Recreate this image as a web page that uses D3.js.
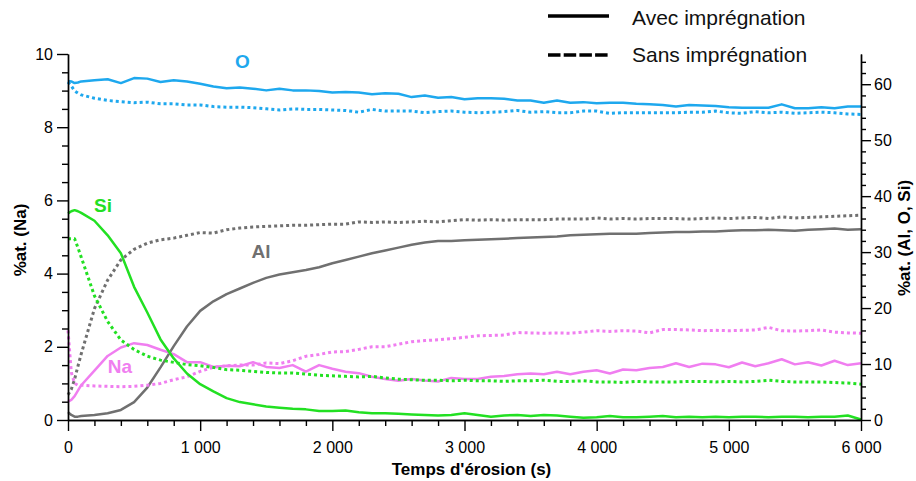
<!DOCTYPE html>
<html>
<head>
<meta charset="utf-8">
<script src="https://cdn.jsdelivr.net/npm/d3@7"></script>
<style>
  html, body { margin: 0; padding: 0; background: #fff; }
  svg { display: block; font-family: "Liberation Sans", Arial, sans-serif; }
</style>
</head>
<body>
<svg id="chart" width="916" height="481"></svg>
<script>
// ---- data ----
const times = [0,25,50,75,100,200,300,400,500,600,700,800,900,1000,
  1100,1200,1300,1400,1500,1600,1700,1800,1900,2000,
  2100,2200,2300,2400,2500,2600,2700,2800,2900,3000,
  3100,3200,3300,3400,3500,3600,3700,3800,3900,4000,
  4100,4200,4300,4400,4500,4600,4700,4800,4900,5000,
  5100,5200,5300,5400,5500,5600,5700,5800,5900,6000];

// right axis (Al, O, Si) — solid = avec imprégnation, dotted = sans imprégnation
const oAvec = [60.6,60.5,60.2,60.3,60.5,60.7,60.9,60.2,61.1,61.0,60.4,60.7,60.5,60.1,
  59.6,59.3,59.4,59.2,58.9,59.2,58.9,58.9,58.8,58.5,
  58.6,58.5,58.2,58.4,58.3,57.7,58.0,57.6,57.7,57.3,
  57.5,57.5,57.4,57.1,57.1,56.7,57.1,56.7,56.8,56.6,
  56.7,56.7,56.5,56.4,56.3,56.0,56.3,56.2,56.1,55.9,
  55.8,55.8,55.8,56.4,55.7,55.7,55.9,55.7,56.0,56.0];
const oSans = [60.4,59.7,58.8,58.4,58.1,57.5,57.1,56.9,56.7,56.8,56.5,56.5,56.3,56.3,
  56.0,55.9,55.9,55.8,55.6,55.4,55.6,55.5,55.5,55.4,
  55.3,55.0,55.5,55.2,55.2,55.2,54.9,55.1,55.2,55.0,
  54.9,55.0,55.1,55.3,55.0,55.1,54.9,54.9,55.2,55.2,
  54.8,54.9,54.9,54.9,54.9,54.9,55.0,55.0,55.2,54.9,
  54.8,55.1,54.9,55.0,54.8,54.9,55.0,54.9,54.7,54.6];
const siAvec = [36.9,37.3,37.5,37.3,37.0,35.6,33.0,29.8,23.8,19.2,14.4,11.0,8.3,6.4,
  5.1,3.9,3.2,2.8,2.4,2.2,2.0,1.9,1.6,1.6,
  1.7,1.4,1.2,1.2,1.1,1.0,0.9,0.8,0.9,1.2,
  0.9,0.6,0.8,0.9,0.7,0.9,0.8,0.6,0.4,0.5,
  0.7,0.5,0.5,0.6,0.7,0.5,0.6,0.5,0.6,0.5,
  0.6,0.6,0.5,0.6,0.6,0.5,0.6,0.6,0.8,0.1];
const siSans = [32.4,32.4,32.4,30.8,29.1,22.2,17.6,14.3,12.6,11.4,10.7,10.3,9.9,9.7,
  9.4,9.0,8.9,8.7,8.5,8.4,8.4,8.2,8.0,7.9,
  7.8,7.7,7.8,7.5,7.3,7.2,7.1,7.1,7.0,7.1,
  7.0,7.0,6.9,7.0,7.0,7.1,6.9,6.9,7.0,6.8,
  6.8,6.7,6.9,6.8,6.8,6.8,6.9,6.9,6.8,6.9,
  6.8,6.9,7.1,6.9,6.8,6.8,6.8,6.7,6.6,6.4];
const alAvec = [1.4,0.9,0.6,0.6,0.7,0.9,1.2,1.8,3.2,5.8,9.4,13.2,16.7,19.5,
  21.2,22.5,23.5,24.5,25.4,26.0,26.4,26.8,27.3,28.0,
  28.6,29.2,29.8,30.3,30.8,31.3,31.7,32.0,32.0,32.1,
  32.2,32.3,32.4,32.5,32.6,32.7,32.8,33.0,33.1,33.2,
  33.3,33.3,33.3,33.4,33.5,33.6,33.6,33.7,33.7,33.8,
  33.9,33.9,34.0,33.9,33.8,34.0,34.1,34.2,34.0,34.1];
const alSans = [4.5,5.5,7.3,9.6,11.8,19.9,25.0,28.6,30.5,31.6,32.2,32.5,33.0,33.5,
  33.4,34.0,34.3,34.5,34.6,34.7,34.8,34.8,34.9,35.0,
  35.0,35.4,35.3,35.4,35.3,35.4,35.5,35.4,35.6,35.8,
  35.7,35.8,35.7,35.8,35.8,35.8,35.9,35.9,35.9,36.1,
  35.9,36.0,35.9,36.0,36.0,36.0,35.9,36.0,36.1,36.0,
  36.1,36.2,36.0,36.3,36.1,36.2,36.3,36.4,36.5,36.6];
// left axis (Na)
const naAvec = [0.5,0.55,0.65,0.8,0.95,1.35,1.75,1.98,2.1,2.05,1.92,1.8,1.58,1.58,
  1.45,1.48,1.47,1.58,1.45,1.42,1.5,1.32,1.5,1.4,
  1.32,1.28,1.18,1.12,1.07,1.12,1.08,1.05,1.15,1.12,
  1.12,1.18,1.2,1.25,1.27,1.25,1.32,1.25,1.32,1.36,
  1.27,1.38,1.36,1.42,1.45,1.55,1.45,1.54,1.52,1.44,
  1.57,1.47,1.55,1.66,1.52,1.58,1.49,1.62,1.5,1.55];
const naSans = [2.45,1.3,1.0,0.95,0.95,0.93,0.92,0.91,0.92,0.95,1.0,1.1,1.18,1.33,
  1.44,1.48,1.5,1.5,1.56,1.54,1.62,1.74,1.79,1.86,
  1.87,1.93,2.0,2.0,2.07,2.14,2.17,2.19,2.22,2.26,
  2.3,2.31,2.32,2.39,2.38,2.37,2.38,2.37,2.4,2.44,
  2.42,2.44,2.43,2.38,2.47,2.47,2.46,2.44,2.45,2.44,
  2.45,2.46,2.53,2.44,2.43,2.44,2.46,2.4,2.38,2.37];

const xTicks = [0,1000,2000,3000,4000,5000,6000];
const xMinorTicks = [200,400,600,800,1200,1400,1600,1800,2200,2400,2600,2800,3200,3400,3600,3800,4200,4400,4600,4800,5200,5400,5600,5800];
const leftTicks = [0,2,4,6,8,10];
const leftMinorTicks = [0.5,1,1.5,2.5,3,3.5,4.5,5,5.5,6.5,7,7.5,8.5,9,9.5];
const rightTicks = [0,10,20,30,40,50,60];
const rightMinorTicks = [2,4,6,8,12,14,16,18,22,24,26,28,32,34,36,38,42,44,46,48,52,54,56,58,62,64];

const seriesLabels = ["O","Si","Al","Na"];
const legendLabels = ["Avec imprégnation","Sans imprégnation"];
const xTitle = "Temps d'érosion (s)";
const leftTitle = "%at. (Na)";
const rightTitle = "%at. (Al, O, Si)";

// ---- layout / styles ----
const colors = { O: "#1ea8ee", Si: "#22e022", Al: "#707070", Na: "#f07ef0" };
const L = 68, R = 861, T = 54, B = 420;

const svg = d3.select("#chart");
const x = d3.scaleLinear().domain([0, 6000]).range([L, R]);
const yL = d3.scaleLinear().domain([0, 10]).range([B, T]);
const yR = d3.scaleLinear().domain([0, 65.4]).range([B, T]);

const loc = d3.formatLocale({decimal: ",", thousands: "\u00a0", grouping: [3], currency: ["", "€"]});
const fmt = loc.format(",d");

function styleAxis(g) {
  g.selectAll("path.domain").attr("stroke", "#000").attr("stroke-width", 1.4);
  g.selectAll(".tick line").attr("stroke", "#000").attr("stroke-width", 1.4);
  g.selectAll("text").attr("fill", "#000").style("font-size", "16px")
    .style("font-family", "'Liberation Sans', Arial, sans-serif");
}

// lines
function drawLine(vals, scale, color, dotted) {
  const line = d3.line().x((d, i) => x(times[i])).y(d => scale(d));
  const p = svg.append("path").datum(vals).attr("d", line)
    .attr("fill", "none").attr("stroke", color)
    .attr("stroke-linejoin", "round");
  if (dotted) p.attr("stroke-width", 3).attr("stroke-dasharray", "3,3");
  else p.attr("stroke-width", 2.5);
}
drawLine(alSans, yR, colors.Al, true);
drawLine(alAvec, yR, colors.Al, false);
drawLine(naSans, yL, colors.Na, true);
drawLine(naAvec, yL, colors.Na, false);
drawLine(siSans, yR, colors.Si, true);
drawLine(siAvec, yR, colors.Si, false);
drawLine(oSans, yR, colors.O, true);
drawLine(oAvec, yR, colors.O, false);

// axes
svg.append("g").attr("transform", `translate(0,${B})`)
  .call(d3.axisBottom(x).tickValues(xMinorTicks).tickSize(6).tickSizeOuter(0).tickFormat(""))
  .call(styleAxis);
svg.append("g").attr("transform", `translate(0,${B})`)
  .call(d3.axisBottom(x).tickValues(xTicks).tickSize(11).tickSizeOuter(0).tickPadding(11).tickFormat(fmt))
  .call(styleAxis);

svg.append("g").attr("transform", `translate(${L},0)`)
  .call(d3.axisLeft(yL).tickValues(leftMinorTicks).tickSize(6).tickSizeOuter(0).tickFormat(""))
  .call(styleAxis);
svg.append("g").attr("transform", `translate(${L},0)`)
  .call(d3.axisLeft(yL).tickValues(leftTicks).tickSize(11).tickSizeOuter(0).tickPadding(4).tickFormat(d3.format("d")))
  .call(styleAxis);

svg.append("g").attr("transform", `translate(${R},0)`)
  .call(d3.axisRight(yR).tickValues(rightMinorTicks).tickSize(5).tickSizeOuter(0).tickFormat(""))
  .call(styleAxis);
svg.append("g").attr("transform", `translate(${R},0)`)
  .call(d3.axisRight(yR).tickValues(rightTicks).tickSize(10).tickSizeOuter(0).tickPadding(3).tickFormat(d3.format("d")))
  .call(styleAxis);

// axis titles
svg.append("text").attr("x", (L + R) / 2 + 7).attr("y", 475).attr("text-anchor", "middle")
  .style("font-size", "17px").style("font-weight", "bold").text(xTitle);
svg.append("text").attr("transform", "translate(26,240) rotate(-90)").attr("text-anchor", "middle")
  .style("font-size", "17px").style("font-weight", "bold").text(leftTitle);
svg.append("text").attr("transform", "translate(910,238) rotate(-90)").attr("text-anchor", "middle")
  .style("font-size", "17px").style("font-weight", "bold").text(rightTitle);

// series labels
const labelPos = { O: [242.5, 68], Si: [103, 212], Al: [261, 258], Na: [120, 373] };
seriesLabels.forEach(k => {
  svg.append("text").attr("x", labelPos[k][0]).attr("y", labelPos[k][1])
    .attr("text-anchor", "middle").attr("fill", colors[k])
    .style("font-size", "19px").style("font-weight", "bold").text(k);
});

// legend
const lg = svg.append("g");
lg.append("line").attr("x1", 548).attr("x2", 609).attr("y1", 16).attr("y2", 16)
  .attr("stroke", "#000").attr("stroke-width", 3.5);
lg.append("line").attr("x1", 548).attr("x2", 610).attr("y1", 55).attr("y2", 55)
  .attr("stroke", "#000").attr("stroke-width", 3.5).attr("stroke-dasharray", "12.5,3.2");
lg.append("text").attr("x", 632).attr("y", 25).style("font-size", "21px").attr("fill", "#111").text(legendLabels[0]);
lg.append("text").attr("x", 632).attr("y", 62).style("font-size", "21px").attr("fill", "#111").text(legendLabels[1]);
</script>
</body>
</html>
